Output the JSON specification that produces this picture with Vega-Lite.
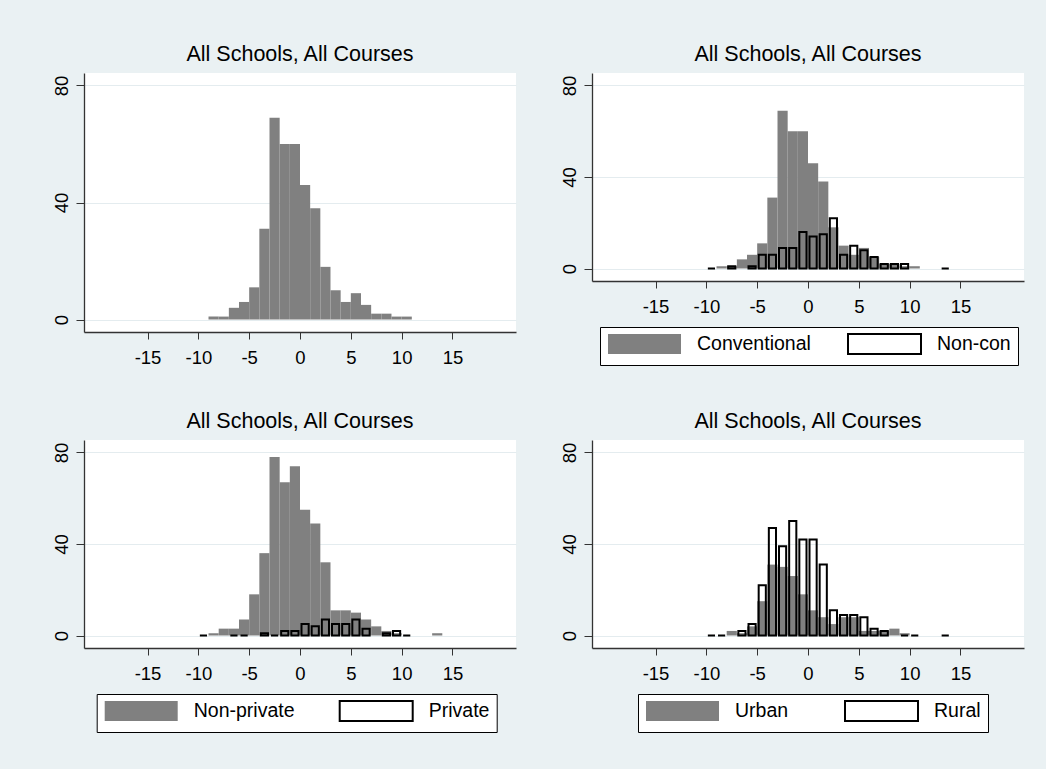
{
  "$schema": "https://vega.github.io/schema/vega-lite/v6.json",
  "autosize": {"type": "none"},
  "padding": {"left": 84, "top": 73, "right": 962, "bottom": 696},
  "background": "#eaf1f3",
  "datasets": {
    "all": [
      {"x0": -9, "x1": -8, "n": 1}, {"x0": -8, "x1": -7, "n": 1}, {"x0": -7, "x1": -6, "n": 4}, {"x0": -6, "x1": -5, "n": 6},
      {"x0": -5, "x1": -4, "n": 11}, {"x0": -4, "x1": -3, "n": 31}, {"x0": -3, "x1": -2, "n": 69}, {"x0": -2, "x1": -1, "n": 60},
      {"x0": -1, "x1": 0, "n": 60}, {"x0": 0, "x1": 1, "n": 46}, {"x0": 1, "x1": 2, "n": 38}, {"x0": 2, "x1": 3, "n": 18},
      {"x0": 3, "x1": 4, "n": 10}, {"x0": 4, "x1": 5, "n": 6}, {"x0": 5, "x1": 6, "n": 9}, {"x0": 6, "x1": 7, "n": 5},
      {"x0": 7, "x1": 8, "n": 2}, {"x0": 8, "x1": 9, "n": 2}, {"x0": 9, "x1": 10, "n": 1}, {"x0": 10, "x1": 11, "n": 1}
    ],
    "conv": [
      {"x0": -9, "x1": -8, "n": 1}, {"x0": -8, "x1": -7, "n": 1}, {"x0": -7, "x1": -6, "n": 4}, {"x0": -6, "x1": -5, "n": 6},
      {"x0": -5, "x1": -4, "n": 11}, {"x0": -4, "x1": -3, "n": 31}, {"x0": -3, "x1": -2, "n": 69}, {"x0": -2, "x1": -1, "n": 60},
      {"x0": -1, "x1": 0, "n": 60}, {"x0": 0, "x1": 1, "n": 46}, {"x0": 1, "x1": 2, "n": 38}, {"x0": 2, "x1": 3, "n": 18},
      {"x0": 3, "x1": 4, "n": 10}, {"x0": 4, "x1": 5, "n": 6}, {"x0": 5, "x1": 6, "n": 9}, {"x0": 6, "x1": 7, "n": 5},
      {"x0": 7, "x1": 8, "n": 2}, {"x0": 8, "x1": 9, "n": 2}, {"x0": 9, "x1": 10, "n": 1}, {"x0": 10, "x1": 11, "n": 1}
    ],
    "noncon": [
      {"g": "Non-con", "x0": -10, "x1": -9, "n": 0}, {"g": "Non-con", "x0": -8, "x1": -7, "n": 1}, {"g": "Non-con", "x0": -6, "x1": -5, "n": 1},
      {"g": "Non-con", "x0": -5, "x1": -4, "n": 6}, {"g": "Non-con", "x0": -4, "x1": -3, "n": 6}, {"g": "Non-con", "x0": -3, "x1": -2, "n": 9},
      {"g": "Non-con", "x0": -2, "x1": -1, "n": 9}, {"g": "Non-con", "x0": -1, "x1": 0, "n": 16}, {"g": "Non-con", "x0": 0, "x1": 1, "n": 14},
      {"g": "Non-con", "x0": 1, "x1": 2, "n": 15}, {"g": "Non-con", "x0": 2, "x1": 3, "n": 22}, {"g": "Non-con", "x0": 3, "x1": 4, "n": 6},
      {"g": "Non-con", "x0": 4, "x1": 5, "n": 10}, {"g": "Non-con", "x0": 5, "x1": 6, "n": 8}, {"g": "Non-con", "x0": 6, "x1": 7, "n": 5},
      {"g": "Non-con", "x0": 7, "x1": 8, "n": 2}, {"g": "Non-con", "x0": 8, "x1": 9, "n": 2}, {"g": "Non-con", "x0": 9, "x1": 10, "n": 2},
      {"g": "Non-con", "x0": 13, "x1": 14, "n": 0}
    ],
    "nonpriv": [
      {"x0": -9, "x1": -8, "n": 1}, {"x0": -8, "x1": -7, "n": 3}, {"x0": -7, "x1": -6, "n": 3}, {"x0": -6, "x1": -5, "n": 7},
      {"x0": -5, "x1": -4, "n": 18}, {"x0": -4, "x1": -3, "n": 36}, {"x0": -3, "x1": -2, "n": 78}, {"x0": -2, "x1": -1, "n": 67},
      {"x0": -1, "x1": 0, "n": 74}, {"x0": 0, "x1": 1, "n": 55}, {"x0": 1, "x1": 2, "n": 49}, {"x0": 2, "x1": 3, "n": 32},
      {"x0": 3, "x1": 4, "n": 11}, {"x0": 4, "x1": 5, "n": 11}, {"x0": 5, "x1": 6, "n": 10}, {"x0": 6, "x1": 7, "n": 7},
      {"x0": 7, "x1": 8, "n": 4}, {"x0": 8, "x1": 9, "n": 2}, {"x0": 9, "x1": 10, "n": 1}, {"x0": 13, "x1": 14, "n": 1}
    ],
    "priv": [
      {"g": "Private", "x0": -10, "x1": -9, "n": 0}, {"g": "Private", "x0": -7, "x1": -6, "n": 0}, {"g": "Private", "x0": -6, "x1": -5, "n": 0},
      {"g": "Private", "x0": -4, "x1": -3, "n": 1}, {"g": "Private", "x0": -3, "x1": -2, "n": 0}, {"g": "Private", "x0": -2, "x1": -1, "n": 2},
      {"g": "Private", "x0": -1, "x1": 0, "n": 2}, {"g": "Private", "x0": 0, "x1": 1, "n": 5}, {"g": "Private", "x0": 1, "x1": 2, "n": 4},
      {"g": "Private", "x0": 2, "x1": 3, "n": 7}, {"g": "Private", "x0": 3, "x1": 4, "n": 5}, {"g": "Private", "x0": 4, "x1": 5, "n": 5},
      {"g": "Private", "x0": 5, "x1": 6, "n": 7}, {"g": "Private", "x0": 6, "x1": 7, "n": 3}, {"g": "Private", "x0": 8, "x1": 9, "n": 1},
      {"g": "Private", "x0": 9, "x1": 10, "n": 2}, {"g": "Private", "x0": 10, "x1": 11, "n": 0}
    ],
    "urban": [
      {"x0": -8, "x1": -7, "n": 2}, {"x0": -7, "x1": -6, "n": 1}, {"x0": -6, "x1": -5, "n": 4}, {"x0": -5, "x1": -4, "n": 15},
      {"x0": -4, "x1": -3, "n": 31}, {"x0": -3, "x1": -2, "n": 30}, {"x0": -2, "x1": -1, "n": 26}, {"x0": -1, "x1": 0, "n": 18},
      {"x0": 0, "x1": 1, "n": 11}, {"x0": 1, "x1": 2, "n": 8}, {"x0": 2, "x1": 3, "n": 5}, {"x0": 3, "x1": 4, "n": 8},
      {"x0": 4, "x1": 5, "n": 8}, {"x0": 5, "x1": 6, "n": 2}, {"x0": 6, "x1": 7, "n": 2}, {"x0": 7, "x1": 8, "n": 2},
      {"x0": 8, "x1": 9, "n": 3}, {"x0": 9, "x1": 10, "n": 1}
    ],
    "rural": [
      {"g": "Rural", "x0": -10, "x1": -9, "n": 0}, {"g": "Rural", "x0": -9, "x1": -8, "n": 0}, {"g": "Rural", "x0": -7, "x1": -6, "n": 2},
      {"g": "Rural", "x0": -6, "x1": -5, "n": 5}, {"g": "Rural", "x0": -5, "x1": -4, "n": 22}, {"g": "Rural", "x0": -4, "x1": -3, "n": 47},
      {"g": "Rural", "x0": -3, "x1": -2, "n": 39}, {"g": "Rural", "x0": -2, "x1": -1, "n": 50}, {"g": "Rural", "x0": -1, "x1": 0, "n": 42},
      {"g": "Rural", "x0": 0, "x1": 1, "n": 42}, {"g": "Rural", "x0": 1, "x1": 2, "n": 31}, {"g": "Rural", "x0": 2, "x1": 3, "n": 11},
      {"g": "Rural", "x0": 3, "x1": 4, "n": 9}, {"g": "Rural", "x0": 4, "x1": 5, "n": 9}, {"g": "Rural", "x0": 5, "x1": 6, "n": 8},
      {"g": "Rural", "x0": 6, "x1": 7, "n": 3}, {"g": "Rural", "x0": 7, "x1": 8, "n": 2}, {"g": "Rural", "x0": 9, "x1": 10, "n": 0},
      {"g": "Rural", "x0": 10, "x1": 11, "n": 0}, {"g": "Rural", "x0": 13, "x1": 14, "n": 0}
    ]
  },
  "columns": 2,
  "bounds": "flush",
  "spacing": {"row": 108, "column": 76},
  "resolve": {
    "scale": {"fill": "independent", "stroke": "independent", "x": "independent", "y": "independent"},
    "legend": {"fill": "independent", "stroke": "independent"}
  },
  "concat": [
    {
      "width": 432, "height": 259,
      "title": {"text": "All Schools, All Courses"},
      "data": {"name": "all"},
      "mark": {"type": "rect", "fill": "#808080"},
      "encoding": {
        "x": {"field": "x0", "type": "quantitative", "scale": {"domain": [-21.25, 21.25], "nice": false, "zero": false},
          "axis": {"title": null, "values": [-15, -10, -5, 0, 5, 10, 15], "labelExpr": "'' + datum.value", "tickSize": 7, "labelPadding": 9, "grid": false, "labelFlush": false, "labelOverlap": false}},
        "x2": {"field": "x1"},
        "y": {"field": "n", "type": "quantitative", "scale": {"domain": [-4.27, 84.27], "nice": false, "zero": false},
          "axis": {"title": null, "values": [0, 40, 80], "labelAngle": -90, "labelAlign": "center", "labelBaseline": "alphabetic", "tickSize": 8, "labelPadding": 9, "grid": true, "labelFlush": false, "labelOverlap": false}},
        "y2": {"datum": 0}
      }
    },
    {
      "width": 432, "height": 208,
      "title": {"text": "All Schools, All Courses"},
      "encoding": {
        "x": {"field": "x0", "type": "quantitative", "scale": {"domain": [-21.25, 21.25], "nice": false, "zero": false},
          "axis": {"title": null, "values": [-15, -10, -5, 0, 5, 10, 15], "labelExpr": "'' + datum.value", "tickSize": 7, "labelPadding": 9, "grid": false, "labelFlush": false, "labelOverlap": false}},
        "x2": {"field": "x1"},
        "y": {"field": "n", "type": "quantitative", "scale": {"domain": [-5.46, 85.46], "nice": false, "zero": false},
          "axis": {"title": null, "values": [0, 40, 80], "labelAngle": -90, "labelAlign": "center", "labelBaseline": "alphabetic", "tickSize": 8, "labelPadding": 9, "grid": true, "labelFlush": false, "labelOverlap": false}},
        "y2": {"datum": 0}
      },
      "layer": [
        {"data": {"name": "conv"}, "mark": {"type": "rect", "fill": "#808080"}},
        {"data": {"name": "noncon"}, "mark": {"type": "rect", "strokeWidth": 2, "xOffset": 1.5, "x2Offset": -1.5},
          "encoding": {
            "fill": {"field": "g", "type": "nominal", "scale": {"domain": ["Conventional", "Non-con"], "range": ["#808080", "transparent"]},
              "legend": {"orient": "none", "legendX": 8, "legendY": 254, "columnPadding": 33}},
            "stroke": {"field": "g", "type": "nominal", "scale": {"domain": ["Conventional", "Non-con"], "range": ["transparent", "black"]},
              "legend": {"orient": "none", "legendX": 8, "legendY": 254, "columnPadding": 33}}
          }}
      ]
    },
    {
      "width": 432, "height": 208,
      "title": {"text": "All Schools, All Courses"},
      "encoding": {
        "x": {"field": "x0", "type": "quantitative", "scale": {"domain": [-21.25, 21.25], "nice": false, "zero": false},
          "axis": {"title": null, "values": [-15, -10, -5, 0, 5, 10, 15], "labelExpr": "'' + datum.value", "tickSize": 7, "labelPadding": 9, "grid": false, "labelFlush": false, "labelOverlap": false}},
        "x2": {"field": "x1"},
        "y": {"field": "n", "type": "quantitative", "scale": {"domain": [-5.46, 85.46], "nice": false, "zero": false},
          "axis": {"title": null, "values": [0, 40, 80], "labelAngle": -90, "labelAlign": "center", "labelBaseline": "alphabetic", "tickSize": 8, "labelPadding": 9, "grid": true, "labelFlush": false, "labelOverlap": false}},
        "y2": {"datum": 0}
      },
      "layer": [
        {"data": {"name": "nonpriv"}, "mark": {"type": "rect", "fill": "#808080"}},
        {"data": {"name": "priv"}, "mark": {"type": "rect", "strokeWidth": 2, "xOffset": 1.5, "x2Offset": -1.5},
          "encoding": {
            "fill": {"field": "g", "type": "nominal", "scale": {"domain": ["Non-private", "Private"], "range": ["#808080", "transparent"]},
              "legend": {"orient": "none", "legendX": 12.7, "legendY": 254, "columnPadding": 41}},
            "stroke": {"field": "g", "type": "nominal", "scale": {"domain": ["Non-private", "Private"], "range": ["transparent", "black"]},
              "legend": {"orient": "none", "legendX": 12.7, "legendY": 254, "columnPadding": 41}}
          }}
      ]
    },
    {
      "width": 432, "height": 208,
      "title": {"text": "All Schools, All Courses"},
      "encoding": {
        "x": {"field": "x0", "type": "quantitative", "scale": {"domain": [-21.25, 21.25], "nice": false, "zero": false},
          "axis": {"title": null, "values": [-15, -10, -5, 0, 5, 10, 15], "labelExpr": "'' + datum.value", "tickSize": 7, "labelPadding": 9, "grid": false, "labelFlush": false, "labelOverlap": false}},
        "x2": {"field": "x1"},
        "y": {"field": "n", "type": "quantitative", "scale": {"domain": [-5.46, 85.46], "nice": false, "zero": false},
          "axis": {"title": null, "values": [0, 40, 80], "labelAngle": -90, "labelAlign": "center", "labelBaseline": "alphabetic", "tickSize": 8, "labelPadding": 9, "grid": true, "labelFlush": false, "labelOverlap": false}},
        "y2": {"datum": 0}
      },
      "layer": [
        {"data": {"name": "urban"}, "mark": {"type": "rect", "fill": "#808080"}},
        {"data": {"name": "rural"}, "mark": {"type": "rect", "strokeWidth": 2, "xOffset": 1.5, "x2Offset": -1.5},
          "encoding": {
            "fill": {"field": "g", "type": "nominal", "scale": {"domain": ["Urban", "Rural"], "range": ["#808080", "transparent"]},
              "legend": {"orient": "none", "legendX": 46, "legendY": 254, "columnPadding": 52}},
            "stroke": {"field": "g", "type": "nominal", "scale": {"domain": ["Urban", "Rural"], "range": ["transparent", "black"]},
              "legend": {"orient": "none", "legendX": 46, "legendY": 254, "columnPadding": 52}}
          }}
      ]
    }
  ],
  "config": {
    "font": "Liberation Sans",
    "view": {"fill": "white", "stroke": null},
    "axis": {
      "domainColor": "#333333", "domainWidth": 1.3, "tickColor": "#333333", "tickWidth": 1,
      "labelColor": "black", "labelFont": "Liberation Sans", "labelFontSize": 18.5,
      "gridColor": "#e4ecef", "gridWidth": 1
    },
    "title": {
      "font": "Liberation Sans", "fontSize": 21.5, "fontWeight": "normal", "color": "black",
      "anchor": "middle", "frame": "group", "offset": 8, "baseline": "alphabetic"
    },
    "legend": {
      "direction": "horizontal", "title": null,
      "symbolType": "M-36.5,-10L36.5,-10L36.5,10L-36.5,10Z", "symbolSize": 4, "symbolStrokeWidth": 2,
      "symbolOffset": 27.75, "labelOffset": 42.75,
      "labelFont": "Liberation Sans", "labelFontSize": 19.5, "labelColor": "black", "labelLimit": 400,
      "padding": 7, "strokeColor": "black", "fillColor": "white", "cornerRadius": 0
    }
  }
}
